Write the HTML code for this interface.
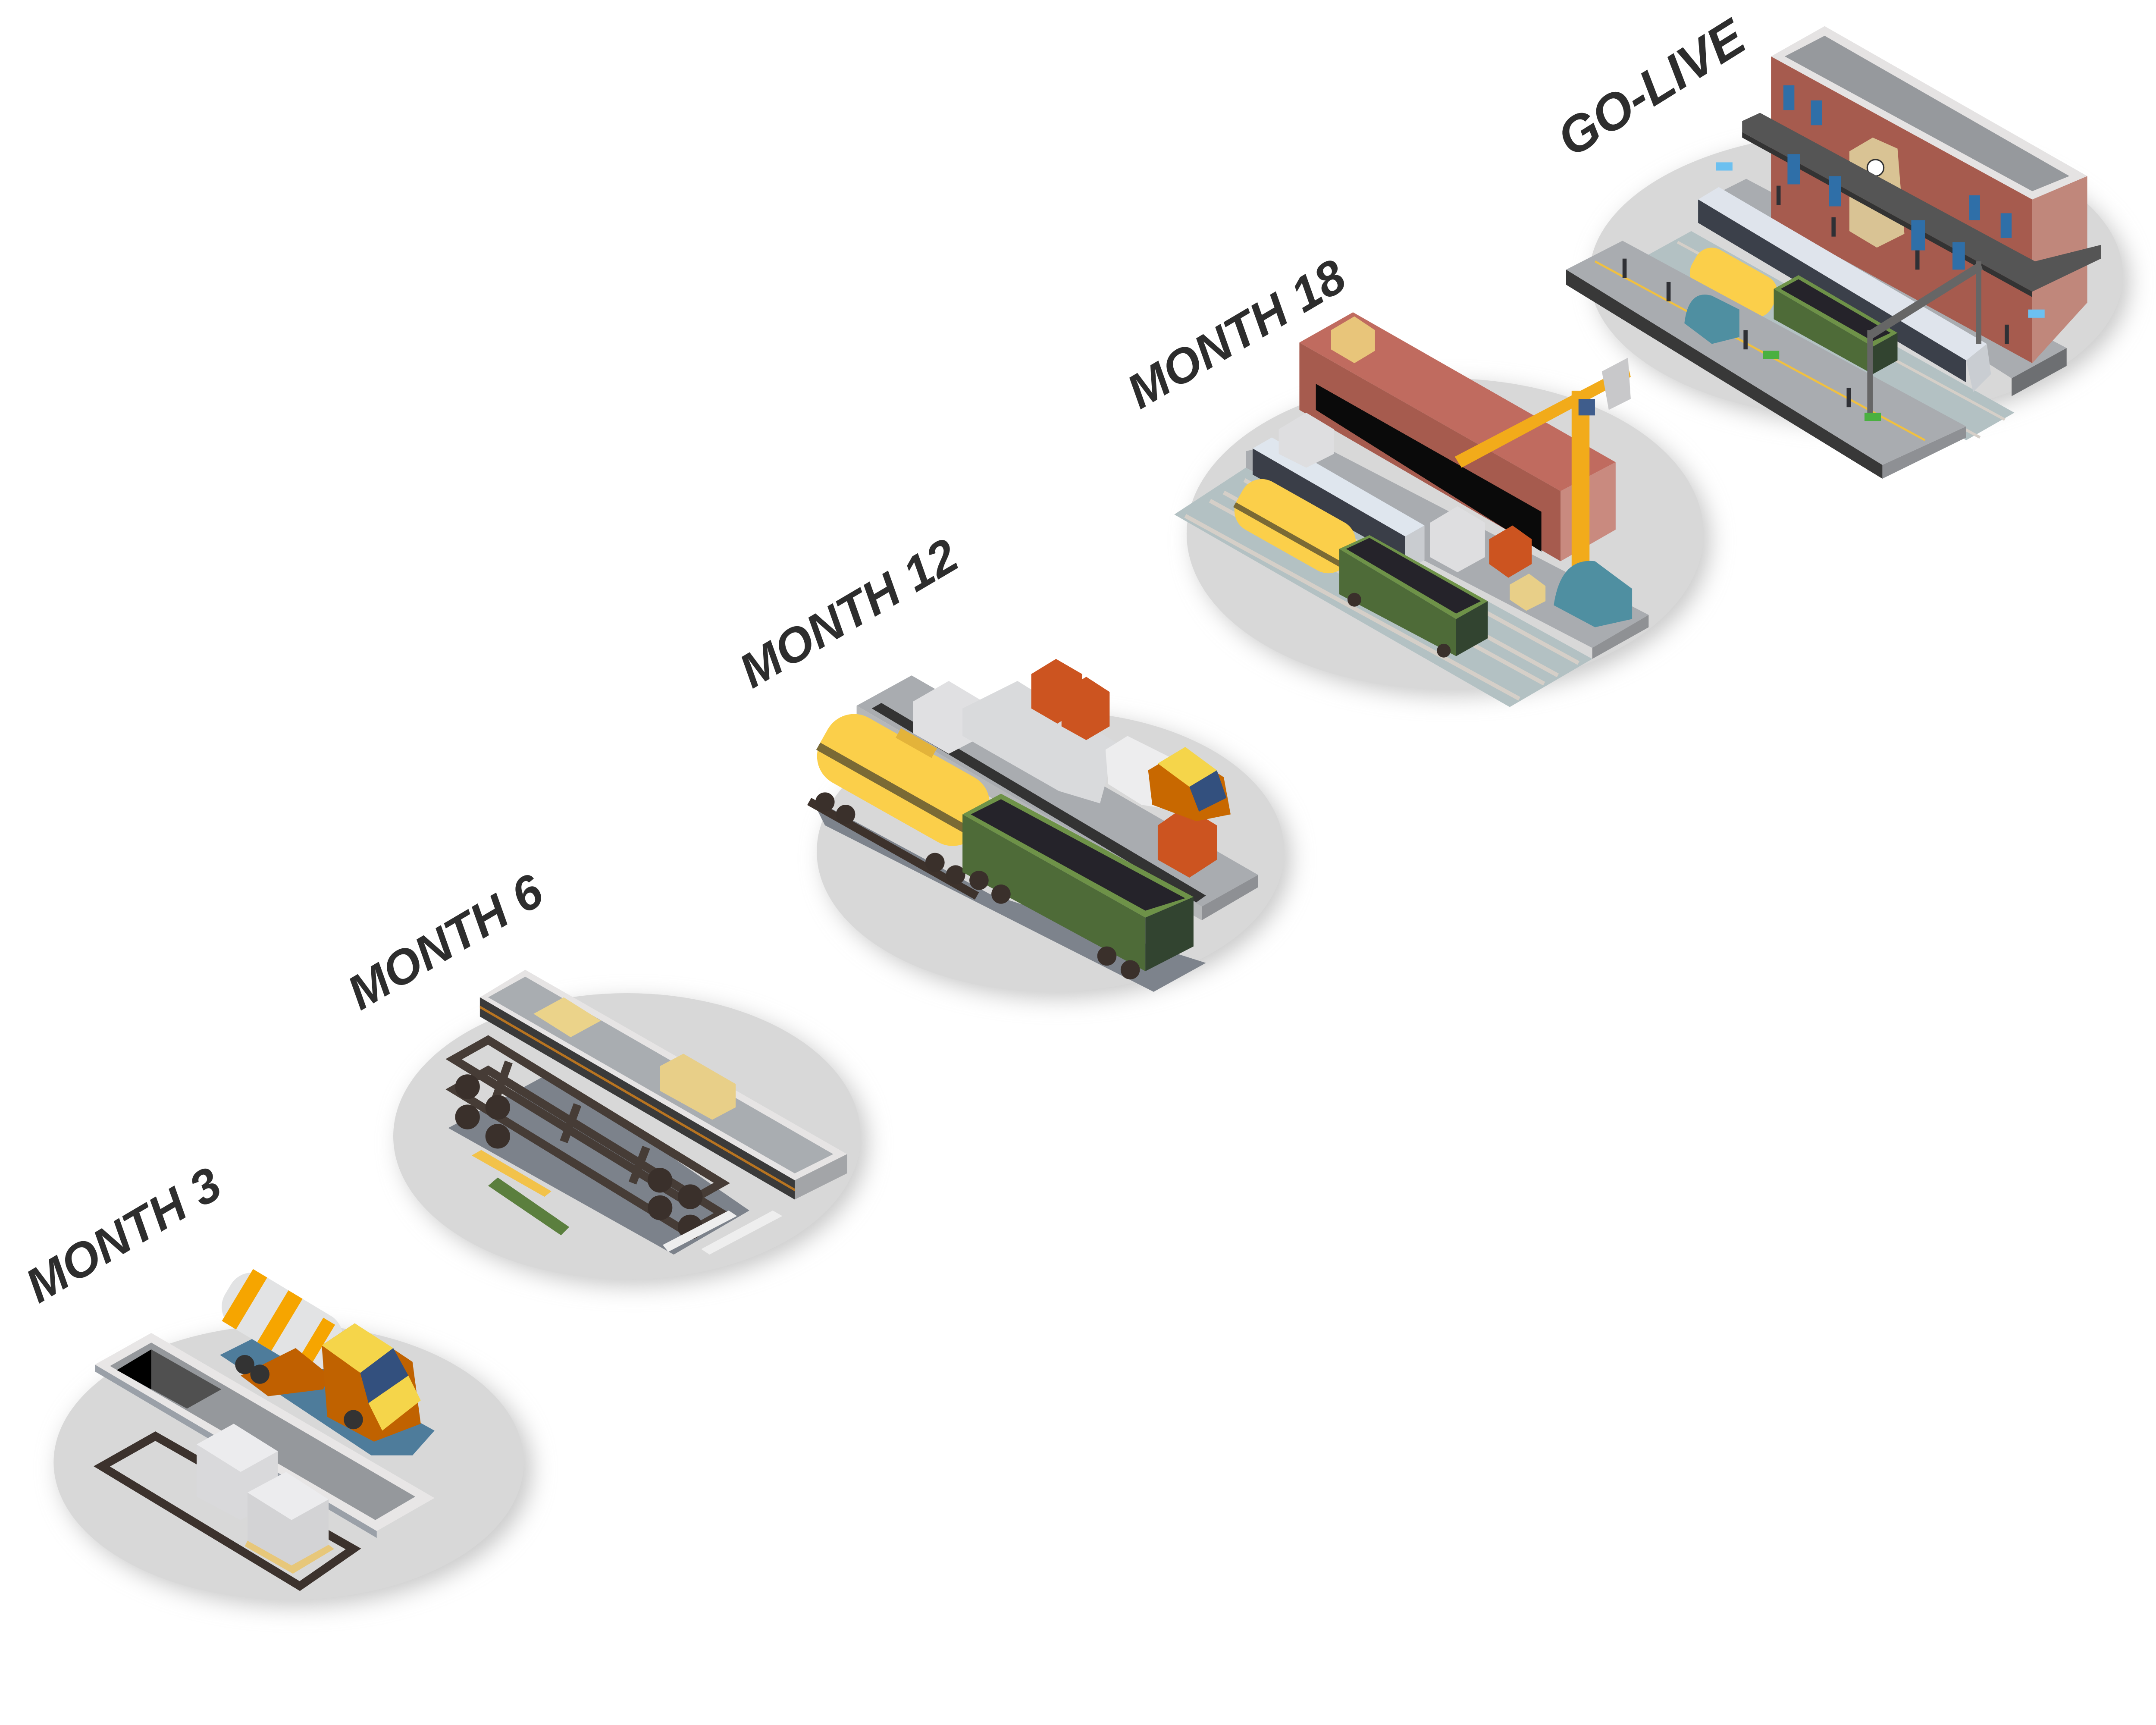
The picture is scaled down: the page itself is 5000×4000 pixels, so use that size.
<!DOCTYPE html>
<html><head><meta charset="utf-8"><style>
html,body{margin:0;padding:0;background:#fff;}
svg{display:block;}
text{font-family:"Liberation Sans",sans-serif;font-weight:bold;font-style:italic;fill:#2d2d2d;}
</style></head><body>
<svg width="5000" height="4000" viewBox="0 0 1568 1254" preserveAspectRatio="none" xmlns="http://www.w3.org/2000/svg">
<defs>
<filter id="bl" x="-20%" y="-20%" width="140%" height="140%"><feGaussianBlur stdDeviation="8"/></filter>
</defs>

<g>
<ellipse cx="215" cy="1068" rx="172" ry="100" fill="#c9c9c9" filter="url(#bl)"/>
<ellipse cx="210" cy="1063" rx="171" ry="100" fill="#d8d8d8"/>
<ellipse cx="461" cy="831" rx="170" ry="104" fill="#c9c9c9" filter="url(#bl)"/>
<ellipse cx="456" cy="826" rx="170" ry="104" fill="#d8d8d8"/>
<ellipse cx="769" cy="624" rx="170" ry="102" fill="#c9c9c9" filter="url(#bl)"/>
<ellipse cx="764" cy="619" rx="170" ry="102" fill="#d8d8d8"/>
<ellipse cx="1056" cy="393" rx="188" ry="113" fill="#c9c9c9" filter="url(#bl)"/>
<ellipse cx="1051" cy="388" rx="188" ry="113" fill="#d8d8d8"/>
<ellipse cx="1355" cy="205" rx="194" ry="104" fill="#c9c9c9" filter="url(#bl)"/>
<ellipse cx="1350" cy="200" rx="194" ry="104" fill="#d8d8d8"/>
</g>

<text x="0" y="0" font-size="35" transform="translate(28,948) rotate(-30.5)">MONTH 3</text>
<text x="0" y="0" font-size="35" transform="translate(262,735) rotate(-30.5)">MONTH 6</text>
<text x="0" y="0" font-size="35" transform="translate(547,501) rotate(-30.5)">MONTH 12</text>
<text x="0" y="0" font-size="35" transform="translate(829,298) rotate(-30.5)">MONTH 18</text>
<text x="0" y="0" font-size="37" transform="translate(1143,115) rotate(-32)">GO-LIVE</text>

<!-- SCENE 1 -->
<g>
<polygon points="69,992 110,969 316,1089 274,1113" fill="#e8e6e6"/>
<polygon points="69,992 274,1113 274,1118 69,997" fill="#9aa0a8"/>
<polygon points="80,993 110,976 302,1088 273,1105" fill="#95989c"/>
<polygon points="85,996 110,981 161,1010 136,1024" fill="#505050"/>
<polygon points="85,996 110,981 110,1010" fill="#000"/>
<polygon points="160,985 190,970 316,1040 300,1058 270,1058" fill="#4e7c9b"/>
<!-- drum -->
<g transform="translate(207,962) rotate(31)">
<rect x="-48" y="-22" width="92" height="44" rx="18" fill="#e2e3e4"/>
<rect x="-40" y="-22" width="12" height="44" fill="#f6a500"/>
<rect x="-10" y="-22" width="12" height="44" fill="#f6a500"/>
<rect x="22" y="-18" width="10" height="36" fill="#f6a500"/>
</g>
<polygon points="175,1000 215,980 240,1000 235,1010 195,1015" fill="#c06000"/>
<circle cx="178" cy="992" r="7" fill="#333"/><circle cx="189" cy="999" r="7" fill="#333"/>
<polygon points="234,978 258,962 300,990 306,1035 272,1048 238,1030" fill="#c06200"/>
<polygon points="234,978 258,962 286,980 262,998" fill="#f5d54a"/>
<polygon points="262,998 286,980 297,1000 268,1020" fill="#33507e"/>
<polygon points="268,1020 297,1000 306,1018 278,1040" fill="#f5d54a"/>
<circle cx="257" cy="1032" r="7" fill="#333"/>
<polygon points="74,1066 113,1044 257,1126 218,1153" fill="none" stroke="#3c322d" stroke-width="6"/>
<polygon points="143,1050 170,1035 202,1055 202,1090 175,1105 143,1088" fill="#d9d9db"/>
<polygon points="143,1050 170,1035 202,1055 175,1070" fill="#ececee"/>
<polygon points="180,1085 208,1070 239,1090 239,1123 212,1138 180,1120" fill="#d3d3d5"/>
<polygon points="180,1085 208,1070 239,1090 212,1105" fill="#ececee"/>
<polygon points="180,1120 212,1138 239,1123 243,1126 213,1144 178,1124" fill="#e7c77a"/>
</g>

<!-- SCENE 2 -->
<g>
<polygon points="326,820 400,780 545,880 490,912" fill="#7c828b"/>
<polygon points="349,725 382,705 616,839 578,858" fill="#e6e4e4"/>
<polygon points="355,725 382,710 606,839 578,853" fill="#a9adb1"/>
<polygon points="349,725 578,858 578,872 349,739" fill="#3a3a3a"/>
<polygon points="349,731 578,864 578,866 349,733" fill="#b87420"/>
<polygon points="578,858 616,839 616,853 578,872" fill="#a3a5a8"/>
<polygon points="388,737 410,725 437,742 415,754" fill="#ebd38a"/>
<polygon points="480,775 497,766 535,788 535,805 518,814 480,793" fill="#e8cf88"/>
<g fill="none" stroke="#463c36" stroke-width="6">
<polygon points="330,770 355,756 525,860 500,874"/>
<polygon points="330,792 355,778 525,882 500,896"/>
<line x1="370" y1="772" x2="360" y2="800"/><line x1="420" y1="803" x2="410" y2="830"/><line x1="470" y1="834" x2="460" y2="860"/>
</g>
<g fill="#3a302b">
<circle cx="340" cy="790" r="9"/><circle cx="362" cy="805" r="9"/><circle cx="340" cy="812" r="9"/><circle cx="362" cy="826" r="9"/>
<circle cx="480" cy="878" r="9"/><circle cx="502" cy="892" r="9"/><circle cx="480" cy="858" r="9"/><circle cx="502" cy="870" r="9"/>
</g>
<polygon points="343,840 350,836 401,866 396,870" fill="#f2c24a"/>
<polygon points="355,862 362,856 414,892 408,898" fill="#5b7f3e"/>
<polygon points="482,905 530,880 536,884 486,910" fill="#eeeeee"/>
<polygon points="510,908 562,880 569,884 516,912" fill="#eeeeee"/>
</g>

<!-- SCENE 3 -->
<g>
<polygon points="590,580 720,650 877,700 839,721 600,600" fill="#7d838c"/>
<polygon points="623,513 663,491 915,636 874,659" fill="#a9acb0"/>
<polygon points="874,659 915,636 915,645 874,669" fill="#8e9094"/>
<polygon points="623,513 874,659 874,669 623,523" fill="#b5b7b9"/>
<polygon points="634,515 641,511 877,651 870,656" fill="#333"/>
<polygon points="664,510 690,495 715,510 715,535 690,548 664,533" fill="#e0e0e2"/>
<polygon points="700,515 740,495 812,540 800,584 770,575 700,535" fill="#d9dadc"/>
<polygon points="750,490 768,479 787,490 787,515 769,526 750,515" fill="#cc5420"/>
<polygon points="772,503 790,492 807,503 807,528 790,538 772,528" fill="#cc5420"/>
<polygon points="842,600 862,586 885,600 885,625 865,638 842,625" fill="#cc5420"/>
<polygon points="804,545 820,535 870,560 860,590 830,585 806,570" fill="#ededee"/>
<polygon points="835,560 860,545 890,565 895,592 870,597 838,585" fill="#c86800"/>
<polygon points="842,555 862,543 885,560 865,572" fill="#f5d54a"/>
<polygon points="865,572 885,560 892,580 872,590" fill="#33507e"/>
<g transform="translate(657,567) rotate(29.4)">
<rect x="-66" y="-27" width="132" height="54" rx="22" fill="#fbcf4a"/>
<rect x="-66" y="6" width="132" height="6" fill="#7a6a35"/>
<rect x="-20" y="-32" width="30" height="8" fill="#e3b33a"/>
</g>
<rect x="0" y="0" width="140" height="6" fill="#3d322c" transform="translate(590,580) rotate(29.4)"/>
<circle cx="600" cy="583" r="7" fill="#3a302b"/><circle cx="615" cy="592" r="7" fill="#3a302b"/>
<circle cx="680" cy="627" r="7" fill="#3a302b"/><circle cx="695" cy="636" r="7" fill="#3a302b"/>
<polygon points="700,592 728,577 868,652 833,667" fill="#6e9248"/>
<polygon points="706,592 728,581 862,653 833,662" fill="#25232a"/>
<polygon points="700,592 833,667 833,706 700,634" fill="#4e6b38"/>
<polygon points="833,667 868,652 868,688 833,706" fill="#324430"/>
<circle cx="712" cy="640" r="7" fill="#3a302b"/><circle cx="728" cy="650" r="7" fill="#3a302b"/>
<circle cx="805" cy="695" r="7" fill="#3a302b"/><circle cx="822" cy="705" r="7" fill="#3a302b"/>
</g>

<!-- SCENE 4 -->
<g>
<polygon points="854,374 906,340 1158,479 1098,514" fill="#b3c1c3"/>
<g stroke="#d5cfc8" stroke-width="3" fill="none">
<line x1="862" y1="375" x2="1105" y2="508"/><line x1="880" y1="364" x2="1123" y2="497"/>
<line x1="890" y1="358" x2="1133" y2="491"/><line x1="905" y1="349" x2="1148" y2="482"/>
</g>
<polygon points="906,328 950,318 1199,447 1158,471 906,340" fill="#a9acb0"/>
<polygon points="1158,471 1199,447 1199,456 1158,479" fill="#8f9194"/>
<polygon points="945,249 1135,357 1135,408 945,298" fill="#a65b4e"/>
<polygon points="945,249 984,227 1175,336 1135,357" fill="#c06b5f"/>
<polygon points="1135,357 1175,336 1175,385 1135,408" fill="#c98a7f"/>
<polygon points="957,279 1121,372 1121,401 957,298" fill="#0a0a0a"/>
<polygon points="968,240 985,230 1000,240 1000,255 985,264 968,254" fill="#e8c57a"/>
<polygon points="911,326 925,318 1036,382 1022,390" fill="#dfe6ee"/>
<polygon points="911,326 1022,390 1022,407 911,345" fill="#3a3e48"/>
<polygon points="1022,390 1036,382 1036,407 1022,415" fill="#c9ccd0"/>
<polygon points="930,312 950,300 970,312 970,330 950,340 930,330" fill="#dedee0"/>
<polygon points="1040,380 1060,368 1080,380 1080,405 1060,416 1040,405" fill="#dedee0"/>
<polygon points="1083,392 1100,382 1114,392 1114,410 1097,420 1083,410" fill="#cc5420"/>
<polygon points="1098,425 1112,417 1124,426 1124,437 1110,444 1098,436" fill="#e8cf88"/>
<g transform="translate(941,382) rotate(29.4)">
<rect x="-45" y="-20" width="92" height="40" rx="16" fill="#fbcf4a"/>
<rect x="-45" y="6" width="92" height="4" fill="#7a6a35"/>
</g>
<polygon points="974,399 996,389 1082,437 1059,450" fill="#6e9248"/>
<polygon points="979,399 996,391 1077,437 1059,446" fill="#25232a"/>
<polygon points="974,399 1059,450 1059,477 974,432" fill="#4e6b38"/>
<polygon points="1059,450 1082,437 1082,464 1059,477" fill="#324430"/>
<circle cx="985" cy="436" r="5" fill="#3a302b"/><circle cx="1050" cy="473" r="5" fill="#3a302b"/>
<rect x="1143" y="284" width="13" height="130" fill="#f2ab1a"/>
<polygon points="1058,332 1184,266 1186,274 1063,340" fill="#f2ab1a"/>
<rect x="1148" y="290" width="12" height="12" fill="#3f5d8c"/>
<polygon points="1165,270 1184,260 1186,290 1170,298" fill="#c8c8ca"/>
<path d="M1130,440 Q1135,405 1160,408 L1187,428 L1187,450 L1160,456 Z" fill="#4f8fa1"/>
</g>

<!-- SCENE 5 -->
<g>
<polygon points="1250,140 1270,130 1503,253 1463,275" fill="#a9acb0"/>
<polygon points="1463,275 1503,253 1503,266 1463,288" fill="#6d6f72"/>
<polygon points="1190,190 1230,168 1465,300 1430,320" fill="#b3c1c3"/>
<g stroke="#d5cfc8" stroke-width="2"><line x1="1200" y1="188" x2="1440" y2="318"/><line x1="1220" y1="176" x2="1458" y2="305"/></g>
<!-- building -->
<polygon points="1288,41 1478,145 1478,264 1288,160" fill="#a65b4e"/>
<polygon points="1478,145 1518,128 1518,220 1478,264" fill="#c0877b"/>
<polygon points="1288,41 1327,19 1518,128 1478,145" fill="#e5e3e3"/>
<polygon points="1298,41 1327,26 1505,128 1478,139" fill="#96999d"/>
<g fill="#2f6fa8"><rect x="1297" y="62" width="8" height="18"/><rect x="1317" y="73" width="8" height="18"/><rect x="1432" y="142" width="8" height="18"/><rect x="1455" y="155" width="8" height="18"/></g>
<polygon points="1345,110 1362,100 1380,108 1385,170 1365,180 1345,168" fill="#d9c394"/>
<circle cx="1364" cy="122" r="6" fill="#fff" stroke="#333" stroke-width="1"/>
<!-- canopy -->
<polygon points="1267,88 1280,82 1480,190 1528,178 1528,188 1478,212 1267,96" fill="#555"/>
<polygon points="1267,96 1478,212 1478,216 1267,100" fill="#333"/>
<g fill="#2f6fa8"><rect x="1300" y="112" width="9" height="22"/><rect x="1330" y="128" width="9" height="22"/><rect x="1390" y="160" width="10" height="22"/><rect x="1420" y="176" width="9" height="20"/></g>
<polygon points="1235,145 1250,136 1445,250 1430,262" fill="#dfe4ec"/>
<polygon points="1235,145 1430,262 1430,278 1235,162" fill="#3b404a"/>
<polygon points="1430,262 1445,250 1448,272 1435,285" fill="#c9cdd2"/>
<g transform="translate(1260,205) rotate(29.4)">
<rect x="-32" y="-16" width="66" height="32" rx="13" fill="#fbcf4a"/>
</g>
<polygon points="1290,210 1308,200 1380,242 1362,252" fill="#6e9248"/>
<polygon points="1295,210 1308,203 1375,242 1362,248" fill="#25232a"/>
<polygon points="1290,210 1362,252 1362,272 1290,232" fill="#4e6b38"/>
<polygon points="1362,252 1380,242 1380,262 1362,272" fill="#324430"/>
<polygon points="1139,196 1180,175 1430,310 1369,338" fill="#a9acb0"/>
<polygon points="1139,196 1369,338 1369,348 1139,207" fill="#383838"/>
<polygon points="1369,338 1430,310 1430,318 1369,348" fill="#8e9094"/>
<line x1="1160" y1="190" x2="1400" y2="320" stroke="#f0c040" stroke-width="1.5"/>
<polygon points="1360,240 1440,190 1442,196 1362,246" fill="#666"/>
<rect x="1358" y="240" width="4" height="65" fill="#666"/>
<rect x="1437" y="190" width="4" height="60" fill="#666"/>
<path d="M1225,235 Q1228,210 1245,215 L1265,225 L1265,245 L1245,250 Z" fill="#4f8fa1"/>
<g fill="#2f3035">
<rect x="1180" y="188" width="3" height="14"/><rect x="1212" y="205" width="3" height="14"/>
<rect x="1268" y="240" width="3" height="14"/><rect x="1343" y="282" width="3" height="14"/>
<rect x="1292" y="135" width="3" height="14"/><rect x="1332" y="158" width="3" height="14"/>
<rect x="1393" y="182" width="3" height="14"/><rect x="1458" y="236" width="3" height="14"/>
</g>
<rect x="1282" y="255" width="12" height="6" fill="#4ab040"/>
<rect x="1356" y="300" width="12" height="6" fill="#4ab040"/>
<rect x="1248" y="118" width="12" height="6" fill="#6cc0f0"/>
<rect x="1475" y="225" width="12" height="6" fill="#6cc0f0"/>
</g>
</svg>
</body></html>
